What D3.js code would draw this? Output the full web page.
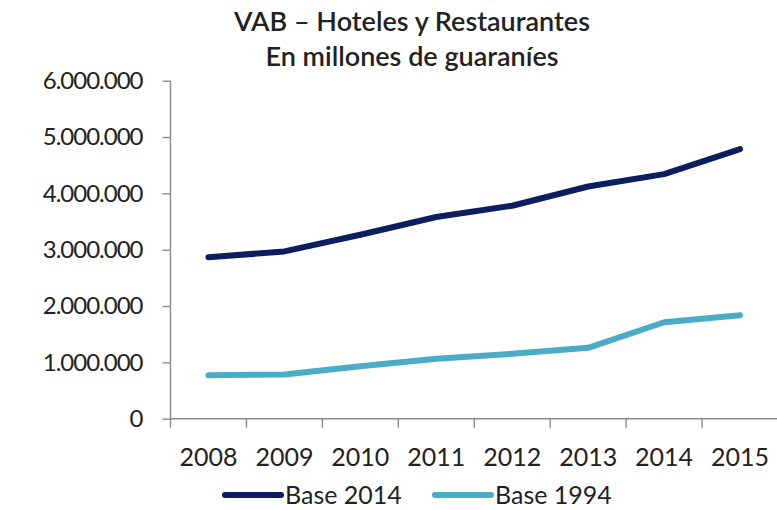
<!DOCTYPE html>
<html>
<head>
<meta charset="utf-8">
<script src="https://cdn.jsdelivr.net/npm/d3@7"></script>
<style>
  html, body { margin: 0; padding: 0; background: #ffffff; }
  svg { display: block; }
  text { font-family: Lato, "Open Sans", sans-serif; fill: #222; }
</style>
</head>
<body>
<svg id="chart" width="777" height="510"></svg>
<script>
const years = ["2008", "2009", "2010", "2011", "2012", "2013", "2014", "2015"];
const base2014 = [2864000, 2970000, 3266000, 3580000, 3780000, 4122000, 4341000, 4784000];
const base1994 = [773000, 785000, 932000, 1063000, 1152000, 1258000, 1712000, 1836000];
const seriesNames = ["Base 2014", "Base 1994"];
const seriesColors = ["#0b1f5e", "#4bacc6"];
const yTicks = [0, 1000000, 2000000, 3000000, 4000000, 5000000, 6000000];
const titleLines = ["VAB – Hoteles y Restaurantes", "En millones de guaraníes"];

(function () {
const svg = d3.select("#chart");
const mLeft = 170.5, mRight = 778, mTop = 80.7, mBottom = 418.7;

const x = d3.scaleBand().domain(years).range([mLeft, mRight]).padding(0);
const y = d3.scaleLinear().domain([0, 6000000]).range([mBottom, mTop]);

const fmt = v => v === 0 ? "0" : d3.format(",")(v).replace(/,/g, ".");

// Y axis
const yAxis = svg.append("g")
  .attr("transform", `translate(${mLeft},0)`)
  .call(d3.axisLeft(y).tickValues(yTicks).tickSize(8).tickPadding(20).tickFormat(fmt));
yAxis.selectAll("path, line").attr("stroke", "#8c8c8c").attr("stroke-width", 1.4);
yAxis.select(".domain").attr("d", `M0,${mTop}V${mBottom}`);
yAxis.selectAll("text").attr("font-size", 24).attr("fill", "#222")
  .attr("font-family", "Lato, sans-serif").attr("letter-spacing", "-1px");

// X axis
const xAxis = svg.append("g")
  .attr("transform", `translate(0,${mBottom})`)
  .call(d3.axisBottom(x).tickSize(0).tickPadding(30));
xAxis.select(".domain").attr("d", `M${mLeft},0H${mRight}`).attr("stroke", "#8c8c8c").attr("stroke-width", 1.4);
xAxis.selectAll("text").attr("font-size", 25).attr("fill", "#222").attr("font-family", "Lato, sans-serif");
// tick marks at band boundaries
svg.append("g").selectAll("line")
  .data(years)
  .join("line")
  .attr("x1", d => x(d)).attr("x2", d => x(d))
  .attr("y1", mBottom).attr("y2", mBottom + 9)
  .attr("stroke", "#8c8c8c").attr("stroke-width", 1.4);

// Lines
const line = d3.line()
  .x((d, i) => x(years[i]) + x.bandwidth() / 2)
  .y(d => y(d));

[base2014, base1994].forEach((s, i) => {
  svg.append("path")
    .datum(s)
    .attr("fill", "none")
    .attr("stroke", seriesColors[i])
    .attr("stroke-width", 6)
    .attr("stroke-linecap", "round")
    .attr("stroke-linejoin", "round")
    .attr("d", line);
});

// Title
svg.append("g").selectAll("text")
  .data(titleLines)
  .join("text")
  .attr("x", 412)
  .attr("y", (d, i) => 31 + i * 35)
  .attr("text-anchor", "middle")
  .attr("font-size", 27)
  .attr("font-weight", 600)
  .attr("fill", "#1a1a1a")
  .text(d => d);

// Legend
const legendX = [225, 435];
const lg = svg.append("g");
seriesNames.forEach((n, i) => {
  lg.append("line")
    .attr("x1", legendX[i]).attr("x2", legendX[i] + 56)
    .attr("y1", 495).attr("y2", 495)
    .attr("stroke", seriesColors[i]).attr("stroke-width", 6)
    .attr("stroke-linecap", "round");
  lg.append("text")
    .attr("x", legendX[i] + 60).attr("y", 504)
    .attr("font-size", 25).attr("fill", "#222")
    .text(n);
});
})();
</script>
</body>
</html>
